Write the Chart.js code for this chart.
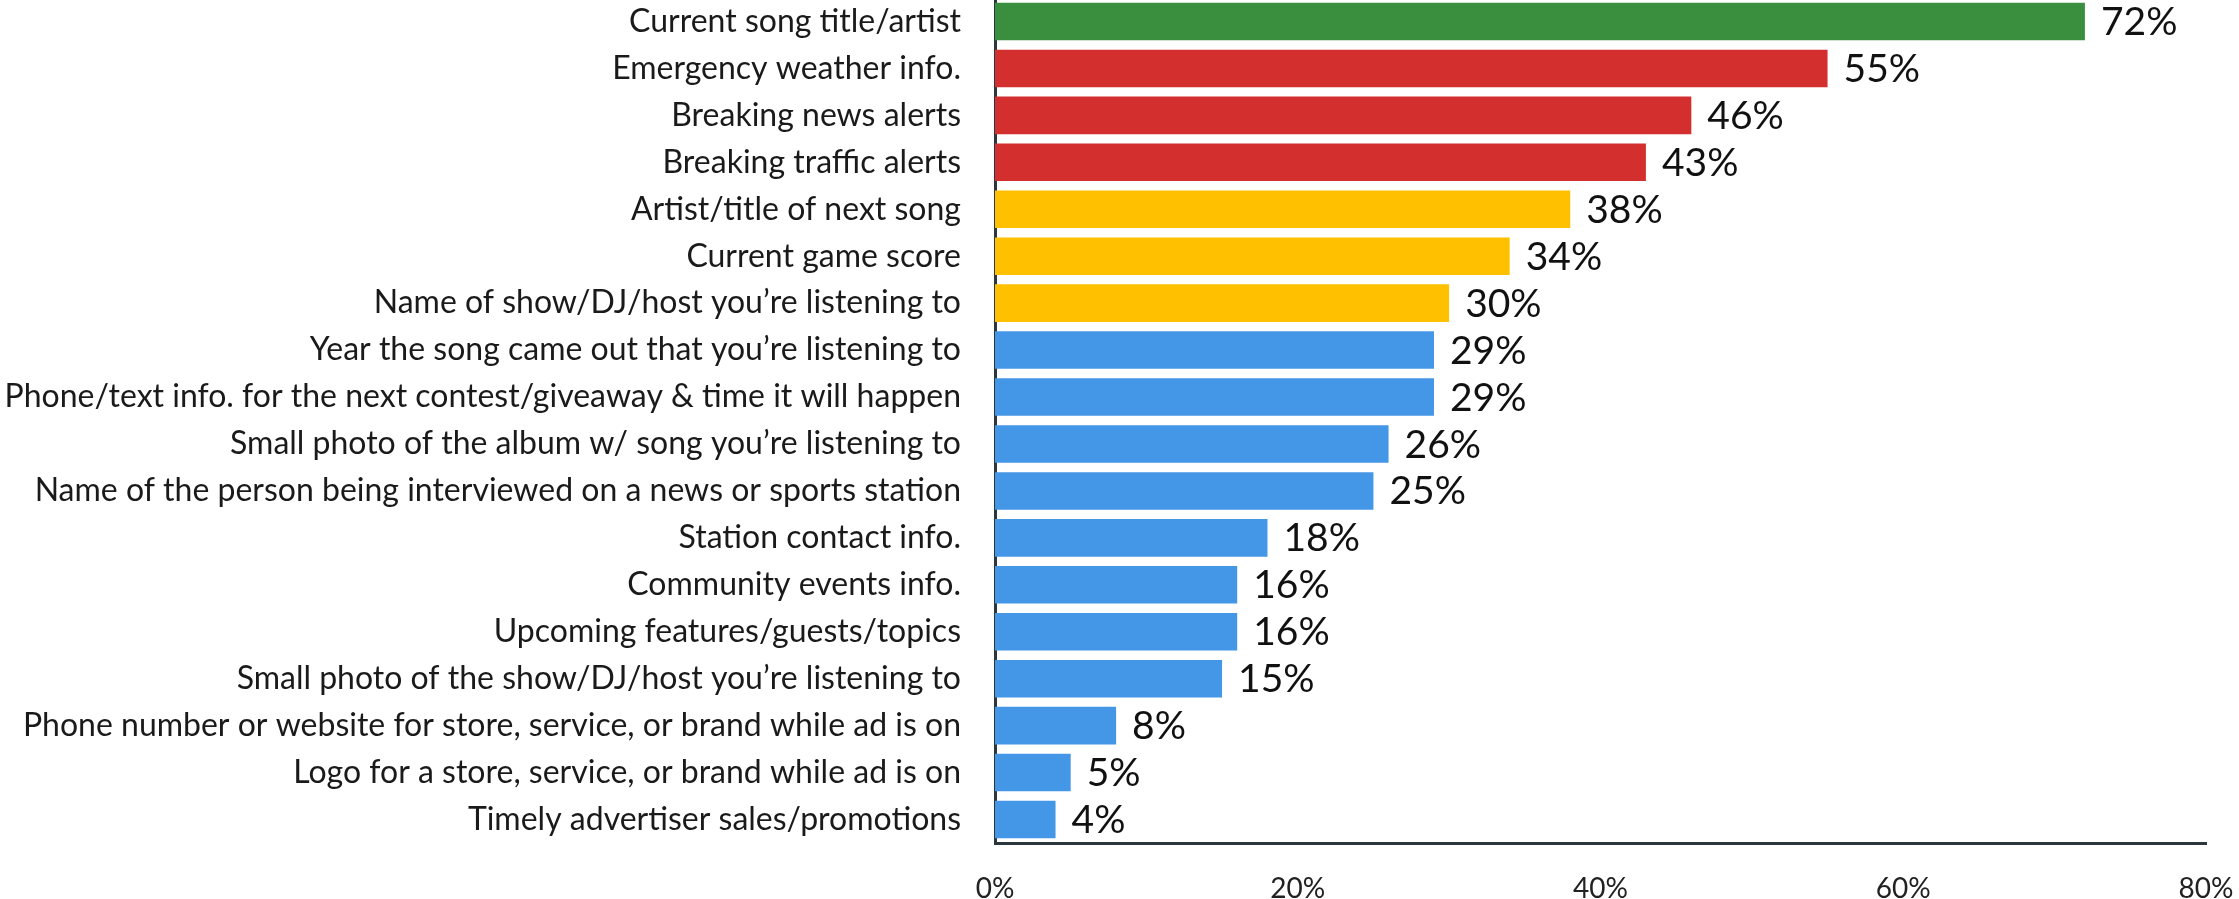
<!DOCTYPE html>
<html>
<head>
<meta charset="utf-8">
<title>Desired on-screen radio info</title>
<script src="https://cdn.jsdelivr.net/npm/chart.js@4.4.1/dist/chart.umd.min.js"></script>
<style>
  html, body { margin: 0; padding: 0; background: #fff; overflow: hidden; }
  #wrap { position: absolute; left: 0; top: -2px; }
</style>
</head>
<body>
<div id="wrap"><canvas id="chart" width="2239" height="901"></canvas></div>
<script>
const categories = [
  "Current song title/artist",
  "Emergency weather info.",
  "Breaking news alerts",
  "Breaking traffic alerts",
  "Artist/title of next song",
  "Current game score",
  "Name of show/DJ/host you\u2019re listening to",
  "Year the song came out that you\u2019re listening to",
  "Phone/text info. for the next contest/giveaway & time it will happen",
  "Small photo of the album w/ song you\u2019re listening to",
  "Name of the person being interviewed on a news or sports station",
  "Station contact info.",
  "Community events info.",
  "Upcoming features/guests/topics",
  "Small photo of the show/DJ/host you\u2019re listening to",
  "Phone number or website for store, service, or brand while ad is on",
  "Logo for a store, service, or brand while ad is on",
  "Timely advertiser sales/promotions",
];
const values = [72, 55, 46, 43, 38, 34, 30, 29, 29, 26, 25, 18, 16, 16, 15, 8, 5, 4];
const xTicks = [0, 20, 40, 60, 80];

// bar fills, top item green, then red / amber / blue groups
const GREEN = "#3a8f3f";
const RED = "#d32f2f";
const AMBER = "#ffc000";
const BLUE = "#4496e6";
const barColors = [GREEN, RED, RED, RED, AMBER, AMBER, AMBER,
  BLUE, BLUE, BLUE, BLUE, BLUE, BLUE, BLUE, BLUE, BLUE, BLUE, BLUE];

const AXIS = "#2b373c";
const FONT = "Lato, 'Open Sans', sans-serif";

// percentage text just past the end of each bar
const valueLabels = {
  id: "valueLabels",
  afterDatasetsDraw(chart) {
    const ctx = chart.ctx;
    const meta = chart.getDatasetMeta(0);
    ctx.save();
    ctx.font = "39px " + FONT;
    ctx.fillStyle = "#111";
    ctx.textAlign = "left";
    ctx.textBaseline = "middle";
    meta.data.forEach((bar, i) => {
      ctx.fillText(values[i] + "%", bar.x + 16, bar.y + 1);
    });
    ctx.restore();
  },
};

new Chart(document.getElementById("chart"), {
  type: "bar",
  data: {
    labels: categories,
    datasets: [{
      data: values,
      backgroundColor: barColors,
      borderWidth: 0,
      barPercentage: 0.8,
      categoryPercentage: 1,
    }],
  },
  options: {
    indexAxis: "y",
    responsive: false,
    animation: false,
    layout: { padding: { top: 0, right: 33, bottom: 0, left: 0 } },
    plugins: {
      legend: { display: false },
      tooltip: { enabled: false },
    },
    scales: {
      x: {
        min: xTicks[0],
        max: xTicks[xTicks.length - 1],
        afterBuildTicks: (scale) => { scale.ticks = xTicks.map((v) => ({ value: v })); },
        grid: { display: false, drawTicks: false },
        border: { display: true, color: AXIS, width: 3 },
        ticks: {
          padding: 29,
          color: "#222",
          font: { family: FONT, size: 28 },
          callback: (v) => v + "%",
          maxRotation: 0,
        },
        afterFit: (scale) => {
          scale.height = 56;
          scale.paddingLeft = 0;
          scale.paddingRight = 0;
        },
      },
      y: {
        grid: { display: false, drawTicks: false },
        border: { display: true, color: AXIS, width: 3 },
        ticks: {
          padding: 34,
          color: "#1a1a1a",
          font: { family: FONT, size: 32 },
          autoSkip: false,
        },
        afterFit: (scale) => {
          // bars fill the full height; keep labels from adding top/bottom room
          scale.width = 995;
          scale.paddingTop = 0;
          scale.paddingBottom = 0;
        },
      },
    },
  },
  plugins: [valueLabels],
});
</script>
</body>
</html>
